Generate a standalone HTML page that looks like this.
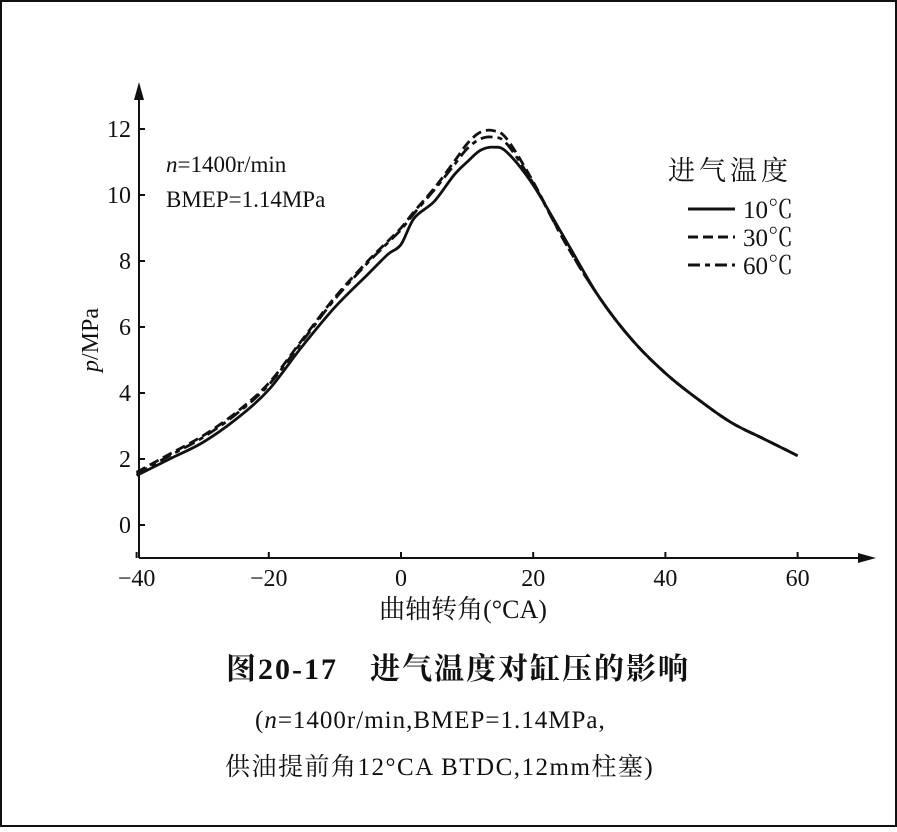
<!DOCTYPE html>
<html><head><meta charset="utf-8"><style>
body{margin:0;background:#fff}
svg text{font-family:"Liberation Serif","Noto Serif CJK SC",serif;fill:#111}
</style></head><body>
<svg width="897" height="827" viewBox="0 0 897 827">
<rect x="1" y="1" width="895" height="825" fill="#fff" stroke="#111" stroke-width="2"/>
<g id="axes"></g>
<g id="series"></g>
<text x="166" y="172" font-size="23"><tspan font-style="italic">n</tspan>=1400r/min</text>
<text x="166" y="207" font-size="23">BMEP=1.14MPa</text>
<g>
<text x="668" y="180" font-size="27" letter-spacing="4" font-family="Noto Sans CJK SC">进气温度</text>
<line x1="688" y1="209" x2="735" y2="209" stroke="#111" stroke-width="3"/>
<text x="743" y="218" font-size="25">10℃</text>
<line x1="688" y1="237" x2="735" y2="237" stroke="#111" stroke-width="3" stroke-dasharray="10,5"/>
<text x="743" y="246" font-size="25">30℃</text>
<line x1="688" y1="265" x2="735" y2="265" stroke="#111" stroke-width="3" stroke-dasharray="12,5,5,5"/>
<text x="743" y="274" font-size="25">60℃</text>
</g>
<text x="463" y="618" font-size="26" text-anchor="middle">曲轴转角(°CA)</text>
<text transform="translate(98,340) rotate(-90)" font-size="24" text-anchor="middle"><tspan font-style="italic">p</tspan>/MPa</text>
<text x="458" y="679" font-size="30" font-weight="bold" letter-spacing="2" text-anchor="middle" font-family="Noto Sans CJK SC">图20-17　进气温度对缸压的影响</text>
<text x="255" y="728" font-size="25" letter-spacing="1">(<tspan font-style="italic">n</tspan>=1400r/min,BMEP=1.14MPa,</text>
<text x="225" y="775" font-size="25" letter-spacing="1.5">供油提前角12°CA BTDC,12mm柱塞)</text>
</svg>
<script>
const xTicks=[-40,-20,0,20,40,60];
const yTicks=[0,2,4,6,8,10,12];
const angles=[-40,-35,-30,-25,-20,-15,-10,-5,-2,0,2,5,8,10,12,14,16,20,25,30,35,40,45,50,55,60];
const p10=[1.5,2.0,2.5,3.2,4.1,5.4,6.6,7.6,8.2,8.5,9.3,9.8,10.6,11.0,11.35,11.45,11.3,10.3,8.6,6.9,5.6,4.6,3.8,3.1,2.6,2.1];
const p30=[1.6,2.15,2.7,3.4,4.3,5.6,6.9,8.0,8.6,9.0,9.5,10.2,11.0,11.55,11.9,11.95,11.7,10.4,8.5,6.9,5.6,4.6,3.8,3.1,2.6,2.1];
const p60=[1.55,2.1,2.65,3.35,4.25,5.55,6.85,7.95,8.55,8.95,9.45,10.15,10.9,11.4,11.7,11.75,11.55,10.35,8.5,6.9,5.6,4.6,3.8,3.1,2.6,2.1];
const NS="http://www.w3.org/2000/svg";
const X=v=>401+v*6.61, Y=v=>525-v*33;
const ax=document.getElementById('axes'), sr=document.getElementById('series');
function mk(tag,at,parent){const e=document.createElementNS(NS,tag);for(const k in at)e.setAttribute(k,at[k]);parent.appendChild(e);return e;}
let e=mk('line',{x1:139,y1:558,x2:868,y2:558,stroke:'#111','stroke-width':2},ax);


e=mk('path',{d:'M876 558 L858 553 L858 563 Z',fill:'#111'},ax);


e=mk('line',{x1:139,y1:558,x2:139,y2:92,stroke:'#111','stroke-width':2},ax);


e=mk('path',{d:'M139 82 L134 100 L144 100 Z',fill:'#111'},ax);


xTicks.forEach(v=>{
 let t=mk('line',{x1:X(v),y1:558,x2:X(v),y2:552,stroke:'#111','stroke-width':2},ax);
 
 
 let l=mk('text',{x:X(v),y:586,'font-size':24,'text-anchor':'middle'},ax);
 l.textContent=v<0?'\u2212'+(-v):String(v);
 
 
});
yTicks.forEach(v=>{
 let t=mk('line',{x1:139,y1:Y(v),x2:145,y2:Y(v),stroke:'#111','stroke-width':2},ax);
 
 
 let l=mk('text',{x:131,y:Y(v)+8,'font-size':24,'text-anchor':'end'},ax);
 l.textContent=String(v);
 
 
});
function line(arr,dash,name){
 const pts=arr.map((v,i)=>[X(angles[i]),Y(v)]);
 let d='M'+pts[0][0].toFixed(1)+' '+pts[0][1].toFixed(1);
 for(let i=0;i<pts.length-1;i++){
  const p0=pts[Math.max(0,i-1)],p1=pts[i],p2=pts[i+1],p3=pts[Math.min(pts.length-1,i+2)];
  const c1=[p1[0]+(p2[0]-p0[0])/6,p1[1]+(p2[1]-p0[1])/6];
  const c2=[p2[0]-(p3[0]-p1[0])/6,p2[1]-(p3[1]-p1[1])/6];
  d+=' C'+c1.map(n=>n.toFixed(1)).join(' ')+' '+c2.map(n=>n.toFixed(1)).join(' ')+' '+p2[0].toFixed(1)+' '+p2[1].toFixed(1);
 }
 const p=mk('path',{d:d,fill:'none',stroke:'#111','stroke-width':2.8,'stroke-linejoin':'round'},sr);
 if(dash)p.setAttribute('stroke-dasharray',dash);
 
 
}
line(p60,'12,5,5,5','series-60c');
line(p30,'10,5','series-30c');
line(p10,null,'series-10c');
</script>
</body></html>
